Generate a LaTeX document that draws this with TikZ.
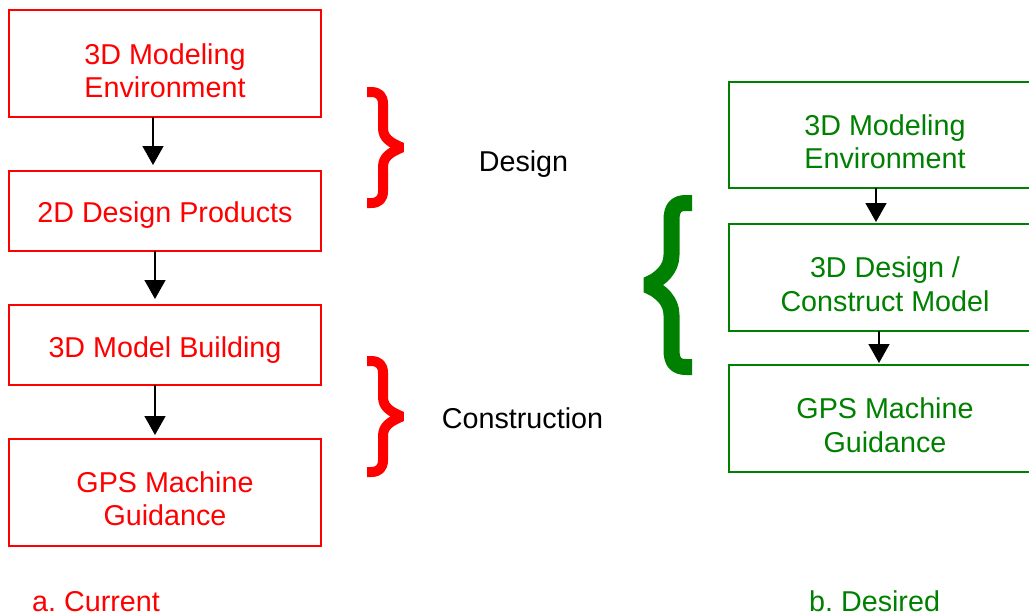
\documentclass[tikz,border=0pt]{standalone}
\usepackage{fontspec}
\setmainfont{Liberation Sans}
\usetikzlibrary{arrows.meta}
\definecolor{cred}{RGB}{255,0,0}
\definecolor{cgreen}{RGB}{0,128,0}
\frenchspacing
\tikzset{
  boxbase/.style={draw, line width=1.6pt, minimum width=312pt, inner sep=0pt, outer sep=0pt},
  rbox/.style={boxbase, draw=cred},
  gbox/.style={boxbase, draw=cgreen},
  txt/.style={font=\fontsize{28.7}{33.5}\selectfont, align=center, inner sep=0pt},
  rtxt/.style={txt, text=cred},
  gtxt/.style={txt, text=cgreen},
  arr/.style={line width=1.5pt, -{Triangle[width=21pt,length=19pt]}},
  bracestroke/.style={line width=#1, line cap=butt, line join=bevel},
  redbrace/.pic={
    \draw[bracestroke=10pt, draw=cred]
      (0,-55.5) -- (4,-55.5) .. controls (12,-55.5) and (16,-51.5) .. (16,-43.5)
      -- (16,-19.5) .. controls (16,-9.5) and (23,-5) .. (34.8,0)
      .. controls (23,5) and (16,9.5) .. (16,19.5)
      -- (16,43.5) .. controls (16,51.5) and (12,55.5) .. (4,55.5) -- (0,55.5);
  }
}
\begin{document}
\begin{tikzpicture}[x=1pt, y=-1pt]
\useasboundingbox (0,0) rectangle (1029,616);
\clip (0,0) rectangle (1029,616);

% left column
\node[rbox, minimum height=107pt] (L1) at (165,63.5) {};
\node[rbox, minimum height=80pt] (L2) at (165,211) {};
\node[rbox, minimum height=80pt] (L3) at (165,345) {};
\node[rbox, minimum height=107pt] (L4) at (165,492.5) {};
\node[rtxt] (L1t) at ([yshift=-7pt]L1.center) {3D Modeling\\Environment};
\node[rtxt] (L2t) at ([yshift=-4.5pt]L2.center) {2D Design Products};
\node[rtxt] (L3t) at ([yshift=-5.5pt]L3.center) {3D Model Building};
\node[rtxt] (L4t) at ([yshift=-6.2pt]L4.center) {GPS Machine\\Guidance};

\draw[arr] ([xshift=-12pt]L1.south) -- ([xshift=-12pt,yshift=6pt]L2.north);
\draw[arr] ([xshift=-10pt]L2.south) -- ([xshift=-10pt,yshift=6pt]L3.north);
\draw[arr] ([xshift=-10pt]L3.south) -- ([xshift=-10pt,yshift=4pt]L4.north);

% braces and phase labels
\pic at (367,147.5) {redbrace};
\pic at (367,416.5) {redbrace};
\node[txt] (design) at (523.5,164) {Design};
\node[txt] (construction) at (522.5,418) {Construction};

% right column
\node[gbox, minimum height=106pt] (R1) at (885,135) {};
\node[gbox, minimum height=107pt] (R2) at (885,277.5) {};
\node[gbox, minimum height=107pt] (R3) at (885,418.5) {};
\node[gtxt] (R1t) at ([yshift=-6.7pt]R1.center) {3D Modeling\\Environment};
\node[gtxt] (R2t) at ([yshift=-6.7pt]R2.center) {3D Design /\\Construct Model};
\node[gtxt] (R3t) at ([yshift=-6.5pt]R3.center) {GPS Machine\\Guidance};

\draw[arr] ([xshift=-9pt]R1.south) -- ([xshift=-9pt,yshift=2pt]R2.north);
\draw[arr] ([xshift=-6pt]R2.south) -- ([xshift=-6pt,yshift=2pt]R3.north);

% green brace
\draw[bracestroke=16pt, draw=cgreen]
  (692,203) -- (686,203) .. controls (676,203) and (671.5,208) .. (671.5,220)
  -- (671.5,255) .. controls (671.5,268) and (662,279) .. (646.6,285)
  .. controls (662,291) and (671.5,302) .. (671.5,315)
  -- (671.5,350) .. controls (671.5,362) and (676,367) .. (686,367) -- (692,367);

% captions
\node[txt, text=cred, anchor=base west] (capA) at (32,611.5) {a. Current};
\node[txt, text=cgreen, anchor=base west] (capB) at (809,611.5) {b. Desired};
\end{tikzpicture}
\end{document}
